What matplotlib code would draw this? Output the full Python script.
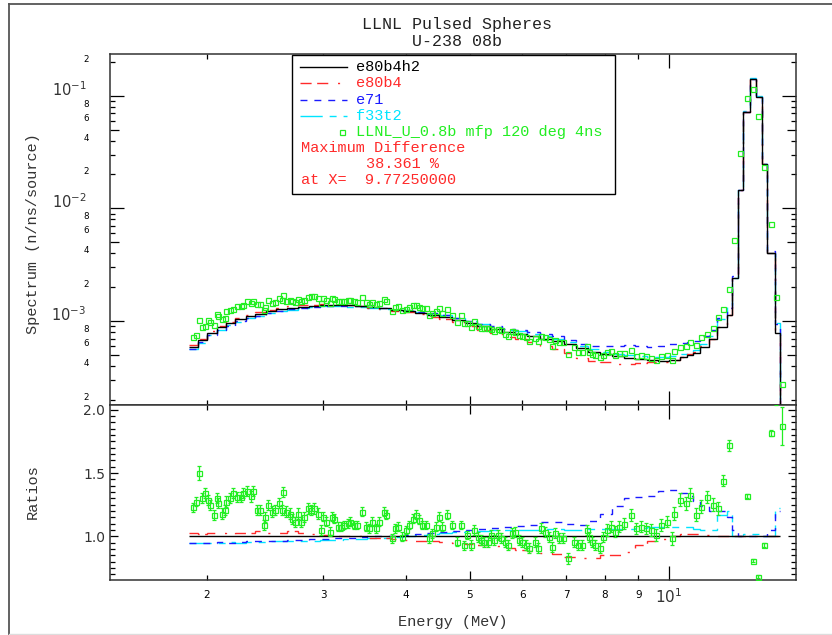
import numpy as np
import matplotlib
matplotlib.use("Agg")
import matplotlib.pyplot as plt
from matplotlib.ticker import FixedLocator, FixedFormatter, NullFormatter
from matplotlib.patches import Rectangle
from matplotlib.lines import Line2D

# ---------------- data ----------------
model_edges = [1.88, 1.94, 2.00, 2.07, 2.14, 2.21, 2.29, 2.37, 2.46, 2.55,
               2.65, 2.75, 2.86, 2.97, 3.09, 3.22, 3.35, 3.49, 3.64, 3.80,
               3.96, 4.13, 4.31, 4.50, 4.70, 4.91, 5.13, 5.36, 5.60, 5.85,
               6.11, 6.38, 6.66, 6.95, 7.25, 7.56, 7.88, 8.21, 8.55, 8.90,
               9.26, 9.63, 10.01, 10.40, 10.65, 10.90, 11.15, 11.50, 11.82, 12.24,
               12.45, 12.74, 12.97, 13.27, 13.56, 13.83, 14.10, 14.47, 14.74, 15.05]

e80b4h2 = [5.9e-4, 6.8e-4, 7.9e-4, 8.8e-4, 9.6e-4, 1.04e-3, 1.11e-3, 1.16e-3, 1.22e-3, 1.27e-3,
           1.31e-3, 1.34e-3, 1.37e-3, 1.39e-3, 1.39e-3, 1.38e-3, 1.36e-3, 1.33e-3, 1.30e-3, 1.26e-3,
           1.23e-3, 1.19e-3, 1.14e-3, 1.09e-3, 1.03e-3, 9.6e-4, 9.0e-4, 8.5e-4, 8.0e-4, 7.7e-4,
           7.35e-4, 6.95e-4, 6.6e-4, 6.2e-4, 5.75e-4, 5.35e-4, 5.05e-4, 4.85e-4, 4.7e-4, 4.6e-4,
           4.5e-4, 4.45e-4, 4.55e-4, 4.75e-4, 4.95e-4, 5.2e-4, 5.9e-4, 7.0e-4, 8.9e-4, 1.13e-3,
           2.4e-3, 1.45e-2, 7.2e-2, 0.142, 0.098, 0.025, 3.98e-3, 7.8e-4, 1.47e-4]

ratio_e80b4 = [1.03, 1.02, 1.03, 1.03, 1.02, 1.03, 1.03, 1.04, 1.03, 1.03,
               1.04, 1.03, 1.02, 1.01, 1.00, 1.00, 1.00, 0.99, 0.99, 0.98,
               0.97, 0.965, 0.96, 0.955, 0.95, 0.94, 0.93, 0.92, 0.905, 0.895,
               0.885, 0.87, 0.86, 0.84, 0.825, 0.83, 0.85, 0.85, 0.88, 0.93,
               0.96, 0.98, 1.00, 1.02, 1.02, 1.02, 1.01, 1.00, 1.00, 1.00,
               1.00, 1.00, 1.00, 1.00, 1.00, 1.00, 1.00, 1.00, 1.00]

ratio_e71 = [0.95, 0.95, 0.95, 0.955, 0.95, 0.955, 0.96, 0.96, 0.965, 0.965,
             0.97, 0.97, 0.975, 0.98, 0.985, 0.99, 0.995, 1.00, 1.00, 1.005,
             1.01, 1.015, 1.025, 1.035, 1.04, 1.05, 1.055, 1.065, 1.07, 1.08,
             1.09, 1.11, 1.115, 1.10, 1.09, 1.12, 1.18, 1.24, 1.30, 1.31,
             1.32, 1.36, 1.37, 1.34, 1.32, 1.28, 1.24, 1.20, 1.20, 1.15,
             1.05, 1.00, 1.00, 1.00, 1.00, 1.00, 1.05, 1.20, 1.20]

ratio_f33t2 = [0.95, 0.945, 0.95, 0.95, 0.955, 0.95, 0.955, 0.955, 0.96, 0.96,
               0.96, 0.965, 0.965, 0.97, 0.97, 0.975, 0.98, 0.985, 0.99, 0.995,
               1.00, 1.01, 1.02, 1.03, 1.035, 1.04, 1.045, 1.05, 1.05, 1.05,
               1.05, 1.055, 1.055, 1.05, 1.05, 1.055, 1.06, 1.06, 1.06, 1.065,
               1.07, 1.075, 1.075, 1.07, 1.07, 1.06, 1.05, 1.05, 1.17, 1.20,
               1.00, 1.00, 1.02, 1.02, 1.02, 1.00, 1.00, 1.22, 1.22]

data_energy = [1.910, 1.930, 1.944, 1.966, 1.990, 2.012, 2.020, 2.050, 2.070, 2.080,
               2.110, 2.130, 2.140, 2.170, 2.190, 2.220, 2.250, 2.270, 2.300, 2.330,
               2.350, 2.380, 2.410, 2.440, 2.450, 2.480, 2.510, 2.540, 2.570, 2.600,
               2.610, 2.640, 2.670, 2.690, 2.720, 2.750, 2.780, 2.810, 2.850, 2.880,
               2.910, 2.950, 2.980, 3.000, 3.030, 3.070, 3.090, 3.120, 3.160, 3.190,
               3.230, 3.270, 3.300, 3.340, 3.380, 3.440, 3.480, 3.520, 3.560, 3.610,
               3.650, 3.710, 3.740, 3.810, 3.860, 3.900, 3.950, 4.000, 4.050, 4.100,
               4.140, 4.190, 4.240, 4.290, 4.340, 4.390, 4.440, 4.490, 4.540, 4.620,
               4.700, 4.780, 4.850, 4.900, 4.960, 5.020, 5.080, 5.140, 5.200, 5.260,
               5.320, 5.380, 5.450, 5.510, 5.580, 5.650, 5.720, 5.790, 5.860, 5.930,
               6.000, 6.080, 6.150, 6.270, 6.350, 6.420, 6.500, 6.580, 6.660, 6.740,
               6.820, 6.930, 7.040, 7.190, 7.280, 7.400, 7.510, 7.570, 7.660, 7.740,
               7.870, 7.960, 8.070, 8.190, 8.280, 8.420, 8.570, 8.770, 8.920, 9.070,
               9.240, 9.410, 9.580, 9.720, 9.930, 10.10, 10.19, 10.39, 10.61, 10.78,
               10.99, 11.20, 11.43, 11.68, 11.87, 12.10, 12.35, 12.55, 12.83, 13.12,
               13.40, 13.63, 13.94, 14.28, 14.55, 14.86]

data_ratio = [1.228, 1.275, 1.500, 1.300, 1.340, 1.290, 1.250, 1.170, 1.300, 1.260,
              1.180, 1.210, 1.275, 1.300, 1.340, 1.310, 1.310, 1.340, 1.355, 1.315,
              1.355, 1.210, 1.210, 1.090, 1.156, 1.250, 1.196, 1.210, 1.260, 1.210,
              1.350, 1.196, 1.180, 1.140, 1.116, 1.180, 1.116, 1.156, 1.220, 1.210,
              1.220, 1.180, 1.050, 1.156, 1.116, 1.037, 1.156, 1.140, 1.077, 1.077,
              1.090, 1.103, 1.116, 1.090, 1.090, 1.196, 1.077, 1.063, 1.116, 1.063,
              1.116, 1.196, 1.170, 0.984, 1.063, 1.077, 0.997, 1.050, 1.090, 1.140,
              1.170, 1.130, 1.090, 1.090, 0.984, 1.024, 1.077, 1.156, 1.077, 1.170,
              1.090, 0.958, 1.090, 0.930, 1.010, 0.930, 1.050, 0.997, 0.970, 0.958,
              0.958, 1.010, 0.970, 1.010, 0.984, 0.958, 0.930, 1.024, 1.037, 0.970,
              0.958, 0.930, 0.905, 0.958, 0.905, 1.063, 1.037, 0.997, 0.918, 1.024,
              0.984, 0.984, 0.825, 0.958, 0.930, 0.930, 1.050, 0.997, 0.958, 0.930,
              0.905, 0.997, 1.050, 1.077, 1.037, 1.077, 1.100, 1.170, 1.063, 1.077,
              1.063, 1.050, 1.010, 1.090, 1.116, 0.984, 1.180, 1.290, 1.260, 1.330,
              1.170, 1.235, 1.310, 1.250, 1.220, 1.440, 1.720, 2.200, 2.140, 1.320,
              0.806, 0.680, 0.930, 1.817, 2.100, 1.875]

data_err = [0.035, 0.035, 0.055, 0.04, 0.04, 0.04, 0.04, 0.04, 0.04, 0.04,
            0.04, 0.04, 0.04, 0.04, 0.04, 0.04, 0.04, 0.04, 0.04, 0.04,
            0.04, 0.04, 0.04, 0.04, 0.04, 0.04, 0.04, 0.04, 0.04, 0.04,
            0.04, 0.04, 0.04, 0.04, 0.04, 0.04, 0.04, 0.04, 0.04, 0.04,
            0.04, 0.04, 0.04, 0.035, 0.035, 0.035, 0.035, 0.035, 0.035, 0.035,
            0.035, 0.035, 0.035, 0.035, 0.035, 0.035, 0.035, 0.035, 0.035, 0.035,
            0.035, 0.035, 0.035, 0.035, 0.035, 0.035, 0.035, 0.035, 0.035, 0.035,
            0.035, 0.035, 0.035, 0.035, 0.035, 0.035, 0.035, 0.035, 0.035, 0.035,
            0.035, 0.035, 0.035, 0.035, 0.035, 0.04, 0.04, 0.04, 0.04, 0.04,
            0.04, 0.04, 0.04, 0.04, 0.04, 0.04, 0.04, 0.04, 0.04, 0.04,
            0.04, 0.04, 0.04, 0.04, 0.04, 0.04, 0.04, 0.04, 0.04, 0.04,
            0.04, 0.04, 0.04, 0.04, 0.04, 0.04, 0.04, 0.04, 0.04, 0.04,
            0.04, 0.04, 0.045, 0.045, 0.045, 0.045, 0.045, 0.045, 0.045, 0.045,
            0.045, 0.045, 0.045, 0.045, 0.045, 0.05, 0.05, 0.05, 0.05, 0.05,
            0.05, 0.05, 0.05, 0.05, 0.05, 0.045, 0.045, 0.03, 0.02, 0.015,
            0.012, 0.012, 0.015, 0.025, 0.06, 0.15]

series_names = ["e80b4h2", "e80b4", "e71", "f33t2"]
data_label = "LLNL_U_0.8b mfp 120 deg 4ns"
max_diff_pct = "38.361 %"
max_diff_x = "9.77250000"
title_lines = ["LLNL Pulsed Spheres", "U-238 08b"]

# ---------------- styles ----------------
C_BLACK = "#000000"
C_RED = "#ff2a2a"
C_BLUE = "#1a1aff"
C_CYAN = "#00e5ff"
C_GREEN = "#22ee22"
LS = {
    "e80b4h2": "-",
    "e80b4": (0, (8, 4, 8, 7, 1.5, 7)),
    "e71": (0, (5, 5)),
    "f33t2": (0, (16, 5, 5, 5)),
}
COL = {"e80b4h2": C_BLACK, "e80b4": C_RED, "e71": C_BLUE, "f33t2": C_CYAN}
MONO = "Liberation Mono"

plt.rcParams["font.family"] = ["DejaVu Sans"]
plt.rcParams["mathtext.fontset"] = "dejavusans"

edges = np.array(model_edges)
base = np.array(e80b4h2)
ratios = {
    "e80b4h2": np.ones_like(base),
    "e80b4": np.array(ratio_e80b4),
    "e71": np.array(ratio_e71),
    "f33t2": np.array(ratio_f33t2),
}
spectra = {k: base * v for k, v in ratios.items()}

dE = np.array(data_energy)
dR = np.array(data_ratio)
dErr = np.array(data_err)
idx = np.searchsorted(edges, dE, side="right") - 1
dSpec = dR * base[idx]

W, H = 832, 635
fig = plt.figure(figsize=(W / 100, H / 100), dpi=100)
L, R = 110, 796
T1, B1, B2 = 54, 404.7, 580
ax1 = fig.add_axes([L / W, 1 - B1 / H, (R - L) / W, (B1 - T1) / H])
ax2 = fig.add_axes([L / W, 1 - B2 / H, (R - L) / W, (B2 - B1) / H])

XLIM = (1.428, 15.58)
YLIM1 = (1.81e-4, 0.2345)
YLIM2 = (0.655, 2.04)

# top panel
draw_order = ["f33t2", "e71", "e80b4", "e80b4h2"]
for name in draw_order:
    ax1.stairs(spectra[name], edges, baseline=None, color=COL[name],
               linestyle=LS[name], linewidth=1.0, zorder=3 if name == "e80b4h2" else 2)
ax1.plot(dE, dSpec, "s", mfc="none", mec=C_GREEN, ms=3.6, mew=0.9, zorder=4)
ax1.set_xscale("log")
ax1.set_yscale("log")
ax1.set_xlim(*XLIM)
ax1.set_ylim(*YLIM1)

# ratio panel
nb = len(base) - 1
for name in draw_order:
    ax2.stairs(ratios[name][:nb], edges[:nb + 1], baseline=None, color=COL[name],
               linestyle=LS[name], linewidth=1.0, zorder=3 if name == "e80b4h2" else 2)
ax2.errorbar(dE, dR, yerr=dErr, fmt="s", mfc="none", mec=C_GREEN, ms=3.6, mew=0.9,
             ecolor=C_GREEN, elinewidth=0.9, capsize=1.5, capthick=0.8, zorder=4)
ax2.set_xscale("log")
ax2.set_xlim(*XLIM)
ax2.set_ylim(*YLIM2)

# ---------------- ticks ----------------
x_major = [10]
x_minor = [2, 3, 4, 5, 6, 7, 8, 9]
for ax in (ax1, ax2):
    ax.xaxis.set_major_locator(FixedLocator(x_major))
    ax.xaxis.set_minor_locator(FixedLocator(x_minor))
    ax.tick_params(which="both", direction="in", top=True, right=True,
                   color="black", width=0.9)
    for sp in ax.spines.values():
        sp.set_linewidth(1.1)
        sp.set_color("#333333")
ax1.xaxis.set_major_formatter(NullFormatter())
ax1.xaxis.set_minor_formatter(NullFormatter())
ax2.xaxis.set_major_formatter(FixedFormatter([r"$10^1$"]))
ax2.xaxis.set_minor_formatter(FixedFormatter([str(v) for v in x_minor]))
ax2.tick_params(axis="x", which="major", labelsize=11, pad=5, labelcolor="#333333")
ax2.tick_params(axis="x", which="minor", labelsize=7.5, pad=7)
for ax in (ax1, ax2):
    ax.tick_params(axis="x", which="major", length=10)
    ax.tick_params(axis="x", which="minor", length=3.6)

y_major = [1e-3, 1e-2, 1e-1]
y_major_lab = [r"$10^{-3}$", r"$10^{-2}$", r"$10^{-1}$"]
y_minor, y_minor_lab = [], []
for n in (-4, -3, -2, -1):
    for k in range(2, 10):
        v = k * 10.0 ** n
        if YLIM1[0] <= v <= YLIM1[1]:
            y_minor.append(v)
            y_minor_lab.append(str(k) if k in (2, 4, 6, 8) else "")
ax1.yaxis.set_major_locator(FixedLocator(y_major))
ax1.yaxis.set_major_formatter(FixedFormatter(y_major_lab))
ax1.yaxis.set_minor_locator(FixedLocator(y_minor))
ax1.yaxis.set_minor_formatter(FixedFormatter(y_minor_lab))
ax1.tick_params(axis="y", which="major", length=10, labelsize=10.5, pad=17,
                labelcolor="#333333")
ax1.tick_params(axis="y", which="minor", length=3.6, labelsize=6.3, pad=15)

r_major = [1.0, 1.5, 2.0]
r_minor = [round(0.70 + 0.05 * i, 2) for i in range(27)]
r_minor = [v for v in r_minor if v not in r_major and v <= 2.0]
ax2.yaxis.set_major_locator(FixedLocator(r_major))
ax2.yaxis.set_major_formatter(FixedFormatter(["1.0", "1.5", "2.0"]))
ax2.yaxis.set_minor_locator(FixedLocator(r_minor))
ax2.yaxis.set_minor_formatter(NullFormatter())
ax2.tick_params(axis="y", which="major", length=5.8, labelsize=10, pad=3.5,
                labelcolor="#333333")
ax2.tick_params(axis="y", which="minor", length=3.6)

# ---------------- legend box ----------------
x0 = (291.7 - L) / (R - L)
x1 = (615 - L) / (R - L)
yb = 1 - (194 - T1) / (B1 - T1)
ax1.add_patch(Rectangle((x0, yb), x1 - x0, 0.997 - yb, transform=ax1.transAxes,
                        fc="white", ec="black", lw=1.0, zorder=10))
rows_px = [66.7, 83.3, 100, 115.7, 131.7, 148.3, 164.3, 180]
rows = [1 - (p - T1) / (B1 - T1) for p in rows_px]
lx0, lx1 = (300 - L) / (R - L), (346.7 - L) / (R - L)
tx = (356 - L) / (R - L)
for i, name in enumerate(series_names):
    ax1.add_line(Line2D([lx0, lx1], [rows[i]] * 2, transform=ax1.transAxes,
                        color=COL[name], linestyle=LS[name], lw=1.0, zorder=11))
    ax1.text(tx, rows[i], name, transform=ax1.transAxes, color=COL[name],
             family=MONO, fontsize=11, va="center", ha="left", zorder=11)
ax1.add_line(Line2D([(341.7 - L) / (R - L)], [rows[4]], transform=ax1.transAxes,
                    marker="s", mfc="none", mec=C_GREEN, ms=3.6, mew=0.9,
                    linestyle="none", zorder=11))
ax1.text(tx, rows[4], data_label, transform=ax1.transAxes, color=C_GREEN,
         family=MONO, fontsize=11, va="center", ha="left", zorder=11)
mx = (300.7 - L) / (R - L)
ax1.text(mx, rows[5], "Maximum Difference", transform=ax1.transAxes, color=C_RED,
         family=MONO, fontsize=11, va="center", ha="left", zorder=11)
ax1.text((366 - L) / (R - L), rows[6], max_diff_pct, transform=ax1.transAxes,
         color=C_RED, family=MONO, fontsize=11, va="center", ha="left", zorder=11)
ax1.text(mx, rows[7], "at X=  " + max_diff_x, transform=ax1.transAxes, color=C_RED,
         family=MONO, fontsize=11, va="center", ha="left", zorder=11)

# ---------------- labels / title ----------------
fig.text(457 / W, 1 - 25 / H, title_lines[0], ha="center", va="center",
         family=MONO, fontsize=12, color="#222222")
fig.text(457 / W, 1 - 42 / H, title_lines[1], ha="center", va="center",
         family=MONO, fontsize=12, color="#222222")
fig.text(33 / W, 1 - 234 / H, "Spectrum (n/ns/source)", rotation=90, ha="center",
         va="center", family=MONO, fontsize=11, color="#333333")
fig.text(33 / W, 1 - 492 / H, "Ratios", rotation=90, ha="center", va="center",
         family=MONO, fontsize=11, color="#333333")
fig.text(453 / W, 1 - 622 / H, "Energy (MeV)", ha="center", va="center",
         family=MONO, fontsize=11, color="#333333")

# outer frame
fx, fy = 9 / W, 1 - 4 / H
fig.add_artist(Line2D([fx, fx], [0, fy], transform=fig.transFigure, color="#555555", lw=1.3))
fig.add_artist(Line2D([fx, 1], [fy, fy], transform=fig.transFigure, color="#555555", lw=1.3))
fig.add_artist(Line2D([fx, 1], [1 - 634 / H] * 2, transform=fig.transFigure,
                      color="#dddddd", lw=1.0))

# medium-length ticks at 5 x 10^n; labels sit just above their ticks
fig.canvas.draw()
def medium(ticks, test):
    for t in ticks:
        if test(t.get_loc()):
            t.tick1line.set_markersize(6.5)
            t.tick2line.set_markersize(6.5)
for ax in (ax1, ax2):
    medium(ax.xaxis.get_minor_ticks(), lambda v: abs(v - 5) < 1e-9)
medium(ax1.yaxis.get_minor_ticks(),
       lambda v: abs(v / 10 ** np.floor(np.log10(v) + 1e-9) - 5) < 1e-6)
for t in ax1.yaxis.get_major_ticks() + ax1.yaxis.get_minor_ticks():
    t.label1.set_verticalalignment("baseline")

fig.savefig("out.png", dpi=100)
